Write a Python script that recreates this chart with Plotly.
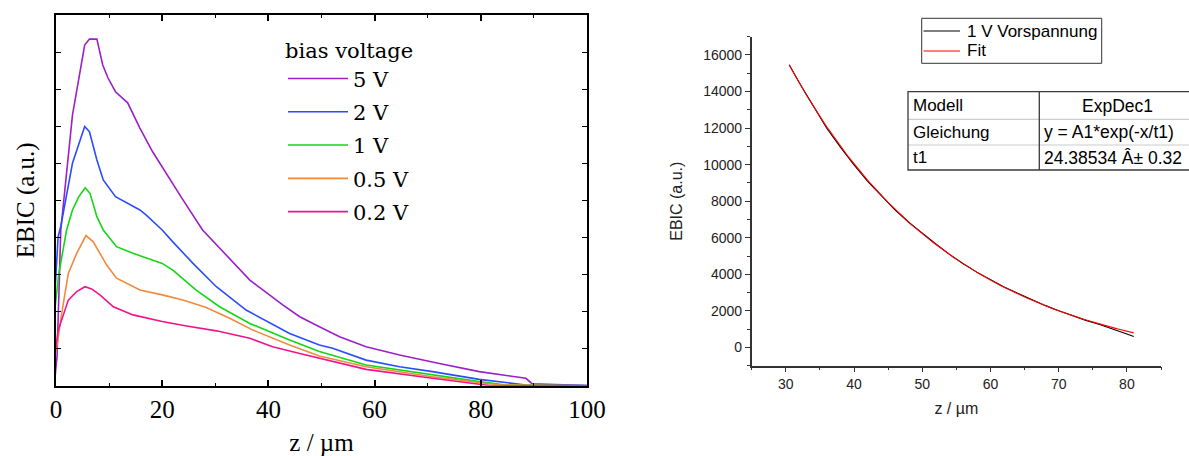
import numpy as np
import plotly.graph_objects as go

W, H = 1189, 456

# --- EBIC line scans for several bias voltages (z in µm, EBIC in a.u.) ---
z_5V = [-0.3, 0.2, 0.9, 3.1, 5.4, 6.3, 7.7, 8.8, 9.8, 11.2, 13.5, 15.8, 18.2, 20.9,
        23.7, 27.6, 30.2, 36.5, 42.7, 45.9, 49.6, 53.4, 58.4, 64.7, 72.2, 79.7,
        88.5, 89.7, 100.5]
ebic_5V = [0.05, 0.8, 4.2, 7.3, 9.19, 9.35, 9.35, 8.65, 8.3, 7.93, 7.63, 6.95, 6.31,
           5.68, 5.06, 4.2, 3.8, 2.85, 2.18, 1.86, 1.59, 1.32, 1.05, 0.83, 0.6,
           0.38, 0.2, 0.05, 0.0]

z_2V = [-0.4, 0.4, 0.9, 3.1, 5.4, 6.3, 7.7, 8.9, 11.2, 13.5, 15.8, 17.0, 20.0, 22.0,
        25.8, 30.2, 35.8, 44.0, 49.6, 52.1, 58.4, 64.7, 70.9, 79.7, 88.5, 100.5]
ebic_2V = [2.04, 4.02, 4.3, 6.0, 6.99, 6.85, 6.09, 5.55, 5.10, 4.92, 4.74, 4.60, 4.20,
           3.88, 3.30, 2.67, 2.04, 1.41, 1.10, 1.01, 0.69, 0.51, 0.38, 0.17, 0.02, 0.0]

z_1V = [-0.4, 0.5, 2.0, 3.1, 4.3, 5.5, 6.4, 7.7, 8.9, 11.4, 14.5, 20.0, 22.0, 26.4,
        30.8, 36.5, 44.0, 49.6, 58.4, 70.9, 79.7, 84.7, 100.5]
ebic_1V = [1.82, 3.0, 4.2, 4.74, 5.10, 5.34, 5.19, 4.56, 4.2, 3.75, 3.57, 3.30, 3.12,
           2.58, 2.13, 1.68, 1.23, 0.92, 0.56, 0.29, 0.11, 0.02, 0.0]

z_05V = [-0.4, 0.25, 1.07, 2.32, 3.89, 5.64, 7.02, 9.52, 11.4, 15.8, 20.0, 23.9, 28.3,
         32.7, 37.1, 44.0, 49.6, 58.4, 70.9, 79.7, 83.5, 100.5]
ebic_05V = [0.69, 1.14, 1.95, 3.03, 3.57, 4.05, 3.88, 3.26, 2.90, 2.58, 2.45, 2.31,
            2.11, 1.82, 1.50, 1.10, 0.80, 0.51, 0.24, 0.08, 0.02, 0.0]

z_02V = [-0.2, 0.43, 2.32, 3.89, 5.45, 6.7, 8.27, 10.8, 14.5, 20.0, 24.6, 30.2, 36.5,
         40.8, 45.9, 49.6, 58.4, 70.9, 79.7, 82.0, 101.0]
ebic_02V = [0.87, 1.50, 2.31, 2.54, 2.67, 2.61, 2.45, 2.13, 1.91, 1.73, 1.61, 1.48,
            1.28, 1.05, 0.87, 0.74, 0.44, 0.20, 0.05, 0.0, 0.0]

bias_labels = ["5 V", "2 V", "1 V", "0.5 V", "0.2 V"]
bias_colors = ["#9d1fc9", "#2a4cff", "#14d614", "#f08a3c", "#f0148c"]
bias_z = [z_5V, z_2V, z_1V, z_05V, z_02V]
bias_ebic = [ebic_5V, ebic_2V, ebic_1V, ebic_05V, ebic_02V]

# --- 1 V scan with exponential decay fit (ExpDec1) ---
z_scan = [30.5, 32, 34, 36, 38, 40, 42, 44, 46, 48, 50, 52, 54, 56, 58, 60, 62, 64,
          66, 68, 70, 72, 74, 76, 78, 80, 81]
ebic_scan = [15470, 14470, 13230, 11990, 10960, 9990, 9090, 8280, 7520, 6850, 6230,
             5660, 5090, 4580, 4120, 3700, 3310, 2960, 2610, 2300, 2010, 1740, 1480,
             1250, 1010, 730, 600]
t1 = 24.38534
t1_err = 0.32
A1 = 58596
y0 = -1319

fit_names = ["1 V Vorspannung", "Fit"]
fit_colors = ["black", "#ff0000"]

table_keys = ["Modell", "Gleichung", "t1"]
table_vals = ["ExpDec1", "y = A1*exp(-x/t1)", f"{t1:.5f} Â± {t1_err:.2f}"]

SERIF = "Liberation Serif"
SANS = "Liberation Sans"


def px_x(p):
    return p / W


def px_y(p):
    return 1 - p / H


fig = go.Figure()

for lab, zz, ee, col in zip(bias_labels, bias_z, bias_ebic, bias_colors):
    fig.add_trace(go.Scatter(
        x=zz, y=ee, mode="lines", name=lab, legendgroup=lab,
        line=dict(color=col, width=1.6), xaxis="x", yaxis="y",
    ))

z_fit = np.linspace(min(z_scan), max(z_scan), 200)
ebic_fit = y0 + A1 * np.exp(-z_fit / t1)

fig.add_trace(go.Scatter(
    x=z_scan, y=ebic_scan, mode="lines", name=fit_names[0], showlegend=False,
    line=dict(color=fit_colors[0], width=1.1), xaxis="x2", yaxis="y2",
))
fig.add_trace(go.Scatter(
    x=z_fit, y=ebic_fit, mode="lines", name=fit_names[1], showlegend=False,
    line=dict(color=fit_colors[1], width=1.1), xaxis="x2", yaxis="y2",
))

shapes = []
annotations = []

# Boxed key for the fit panel
key_box = (921.7, 18.3, 1101.7, 63.3)
shapes.append(dict(type="rect", xref="paper", yref="paper",
                   x0=px_x(key_box[0]), x1=px_x(key_box[2]),
                   y0=px_y(key_box[3]), y1=px_y(key_box[1]),
                   line=dict(color="#333333", width=1), fillcolor="white", layer="above"))
for i, (nm, col) in enumerate(zip(fit_names, fit_colors)):
    yk = px_y(31 + 20 * i)
    shapes.append(dict(type="line", xref="paper", yref="paper",
                       x0=px_x(923.5), x1=px_x(960), y0=yk, y1=yk,
                       line=dict(color=col, width=1.1), layer="above"))
    annotations.append(dict(xref="paper", yref="paper", x=px_x(965), y=yk, text=nm,
                            showarrow=False, xanchor="left", yanchor="middle",
                            font=dict(family=SANS, size=17, color="black")))

# Fit parameter table
tbl_left, tbl_mid, tbl_right = 908, 1039.3, 1200
row_edges = [91.7, 119.3, 145.0, 170.0]
for i in (1, 2):
    shapes.append(dict(type="line", xref="paper", yref="paper",
                       x0=px_x(tbl_left), x1=px_x(tbl_right),
                       y0=px_y(row_edges[i]), y1=px_y(row_edges[i]),
                       line=dict(color="#cccccc", width=1.2)))
shapes.append(dict(type="rect", xref="paper", yref="paper",
                   x0=px_x(tbl_left), x1=px_x(tbl_right),
                   y0=px_y(row_edges[3]), y1=px_y(row_edges[0]),
                   line=dict(color="#3a3a3a", width=1.3)))
shapes.append(dict(type="line", xref="paper", yref="paper",
                   x0=px_x(tbl_mid), x1=px_x(tbl_mid),
                   y0=px_y(row_edges[3]), y1=px_y(row_edges[0]),
                   line=dict(color="#3a3a3a", width=1.3)))

for i, (k, v) in enumerate(zip(table_keys, table_vals)):
    yc = px_y((row_edges[i] + row_edges[i + 1]) / 2)
    annotations.append(dict(xref="paper", yref="paper", x=px_x(tbl_left + 3), y=yc,
                            text=k, showarrow=False, xanchor="left", yanchor="middle",
                            font=dict(family=SANS, size=17, color="black")))
    if i == 0:
        annotations.append(dict(xref="paper", yref="paper", x=px_x(1117), y=yc,
                                text=v, showarrow=False, xanchor="center", yanchor="middle",
                                font=dict(family=SANS, size=17.5, color="black")))
    else:
        annotations.append(dict(xref="paper", yref="paper", x=px_x(tbl_mid + 3), y=yc,
                                text=v, showarrow=False, xanchor="left", yanchor="middle",
                                font=dict(family=SANS, size=17.5, color="black")))

fig.update_layout(
    width=W, height=H,
    margin=dict(l=0, r=0, t=0, b=0, autoexpand=False),
    paper_bgcolor="white", plot_bgcolor="white",
    showlegend=True,
    xaxis=dict(
        domain=[px_x(56), px_x(587)], range=[0, 100], dtick=20, tick0=0,
        ticks="inside", ticklen=6, tickwidth=1.5, tickcolor="black",
        minor=dict(dtick=10, tick0=0, ticks="inside", ticklen=3, tickwidth=1.3, tickcolor="black"),
        showline=True, linecolor="black", linewidth=2, mirror="allticks",
        showgrid=False, zeroline=False, automargin=False,
        tickfont=dict(family=SERIF, size=25, color="black"), ticklabelstandoff=0,
        title=dict(text="z / µm", font=dict(family=SERIF, size=25, color="black"), standoff=13),
        anchor="y",
    ),
    yaxis=dict(
        domain=[px_y(385.7), px_y(15)], range=[0, 10], dtick=1, tick0=0,
        ticks="inside", ticklen=5, tickwidth=1.3, tickcolor="black",
        showticklabels=False,
        showline=True, linecolor="black", linewidth=2, mirror="allticks",
        showgrid=False, zeroline=False, automargin=False,
        title=dict(text="EBIC (a.u.)", font=dict(family=SERIF, size=25, color="black"), standoff=12),
        anchor="x",
    ),
    xaxis2=dict(
        domain=[px_x(751.7), px_x(1161)], range=[25, 85], dtick=10, tick0=0,
        ticks="outside", ticklen=5, tickwidth=1.2, tickcolor="#333333",
        minor=dict(dtick=5, tick0=0, ticks="outside", ticklen=3, tickwidth=1.2, tickcolor="#333333"),
        showline=True, linecolor="#333333", linewidth=1.5,
        showgrid=False, zeroline=False, automargin=False,
        tickfont=dict(family=SANS, size=14, color="#222222"),
        title=dict(text="z / µm", font=dict(family=SANS, size=16, color="#222222"), standoff=12),
        anchor="y2",
    ),
    yaxis2=dict(
        domain=[px_y(365.7), px_y(36.7)], range=[-1000, 17000], dtick=2000, tick0=0,
        tickformat="d",
        ticks="outside", ticklen=5, tickwidth=1.2, tickcolor="#333333",
        minor=dict(dtick=1000, tick0=0, ticks="outside", ticklen=3, tickwidth=1.2, tickcolor="#333333"),
        showline=True, linecolor="#333333", linewidth=1.5,
        showgrid=False, zeroline=False, automargin=False,
        tickfont=dict(family=SANS, size=14, color="#222222"),
        title=dict(text="EBIC (a.u.)", font=dict(family=SANS, size=16, color="#222222"), standoff=17),
        anchor="x2",
    ),
    legend=dict(
        x=px_x(283), y=px_y(31), xanchor="left", yanchor="top",
        bgcolor="rgba(0,0,0,0)", borderwidth=0,
        title=dict(text="bias voltage", font=dict(family="DejaVu Serif", size=21, color="black")),
        font=dict(family="DejaVu Serif", size=21, color="black"),
        itemwidth=60, tracegroupgap=3,
    ),
    shapes=shapes,
    annotations=annotations,
)

fig.write_html("out.html")
